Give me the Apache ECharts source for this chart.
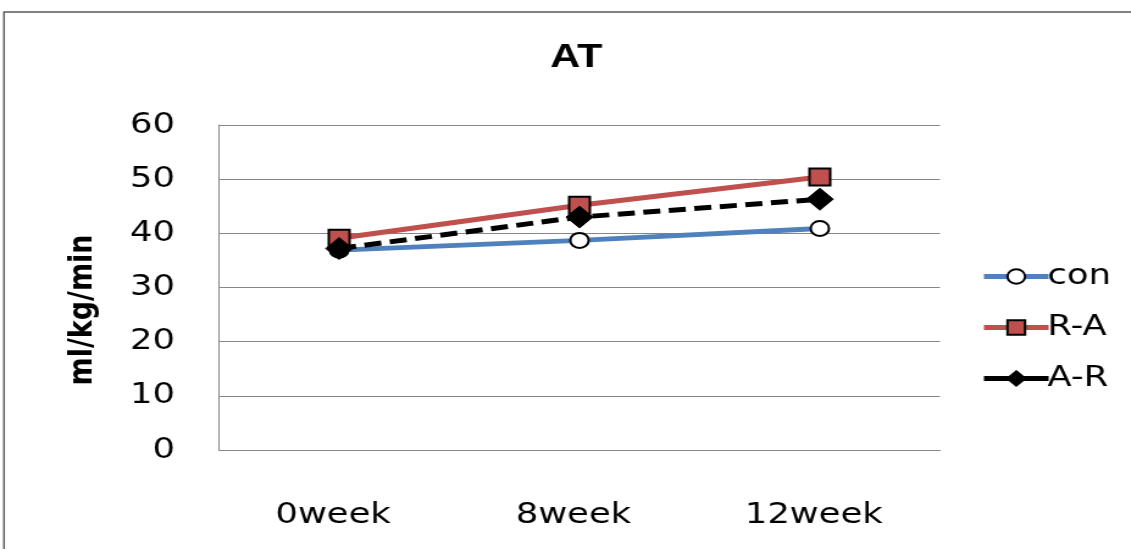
<!DOCTYPE html>
<html>
<head>
<meta charset="utf-8">
<script src="https://cdn.jsdelivr.net/npm/echarts@6/dist/echarts.min.js"></script>
<style>
  html, body { margin: 0; padding: 0; background: #fff; overflow: hidden; }
  /* the chart is laid out narrow and widened horizontally */
  #wrap { width: 1131px; height: 549px; overflow: hidden; }
  #chart { width: 927px; height: 549px; transform: scaleX(1.22); transform-origin: 0 0; }
</style>
</head>
<body>
<div id="wrap"><div id="chart"></div></div>
<script>
// Anaerobic threshold (ml/kg/min) by group and week
const categories = ['0week', '8week', '12week'];
const yTicks = [0, 10, 20, 30, 40, 50, 60];
const conValues = [36.9, 38.7, 40.9];
const raValues = [39.1, 45.2, 50.4];
const arValues = [37.2, 43.0, 46.3];

const labelFont = 'DejaVu Sans, Verdana, sans-serif';

const chart = echarts.init(document.getElementById('chart'), null, { renderer: 'canvas' });

chart.setOption({
  backgroundColor: '#ffffff',
  animation: false,
  title: {
    text: 'AT',
    left: 446,
    top: 36,
    textStyle: { fontFamily: 'Liberation Sans, Arial, sans-serif', fontWeight: 'bold', fontSize: 34, color: '#000' }
  },
  graphic: [
    {
      type: 'rect',
      shape: { x: 3.3, y: 12, width: 1000, height: 600 },
      style: { fill: 'none', stroke: '#5a5a5a', lineWidth: 1.5 },
      silent: true,
      z: -1
    },
    {
      // y-axis title
      type: 'text',
      x: 68,
      y: 310,
      rotation: Math.PI / 2,
      style: {
        text: 'ml/kg/min',
        font: 'bold 27px "DejaVu Sans", sans-serif',
        fill: '#000',
        align: 'center',
        verticalAlign: 'middle'
      },
      silent: true
    }
  ],
  legend: {
    orient: 'vertical',
    left: 799,
    top: 256,
    itemWidth: 53,
    itemHeight: 18,
    itemGap: 20,
    lineStyle: { width: 5, type: 'solid' },
    textStyle: { fontFamily: labelFont, fontSize: 29, color: '#000', lineHeight: 31, padding: [0, 0, 0, -6] },
    data: ['con', 'R-A', 'A-R']
  },
  grid: { left: 179.5, right: 156.5, top: 125, bottom: 99, containLabel: false },
  xAxis: {
    type: 'category',
    data: categories,
    boundaryGap: true,
    axisLine: { lineStyle: { color: '#868686', width: 1 } },
    axisTick: { show: false },
    axisLabel: { fontFamily: labelFont, fontSize: 29, color: '#000', margin: 51, padding: [0, 10, 0, 0] }
  },
  yAxis: {
    type: 'value',
    min: yTicks[0],
    max: yTicks[yTicks.length - 1],
    interval: 10,
    axisLine: { show: true, lineStyle: { color: '#868686', width: 1 } },
    axisTick: { show: false },
    splitLine: { lineStyle: { color: '#868686', width: 1 } },
    axisLabel: { fontFamily: labelFont, fontSize: 29, color: '#000', margin: 36 }
  },
  series: [
    {
      name: 'con',
      type: 'line',
      data: conValues,
      symbol: 'circle',
      symbolSize: 15,
      lineStyle: { color: '#4F81BD', width: 5 },
      itemStyle: { color: '#ffffff', borderColor: '#000', borderWidth: 2 },
      z: 2
    },
    {
      name: 'R-A',
      type: 'line',
      data: raValues,
      symbol: 'rect',
      symbolSize: 17,
      lineStyle: { color: '#C0504D', width: 5 },
      itemStyle: { color: '#C0504D', borderColor: '#000', borderWidth: 2 },
      z: 3
    },
    {
      name: 'A-R',
      type: 'line',
      data: arValues,
      symbol: 'diamond',
      symbolSize: 22,
      lineStyle: { color: '#000', width: 5, type: [14, 7] },
      itemStyle: { color: '#000', borderColor: '#000', borderWidth: 1 },
      z: 4
    }
  ]
});
</script>
</body>
</html>
